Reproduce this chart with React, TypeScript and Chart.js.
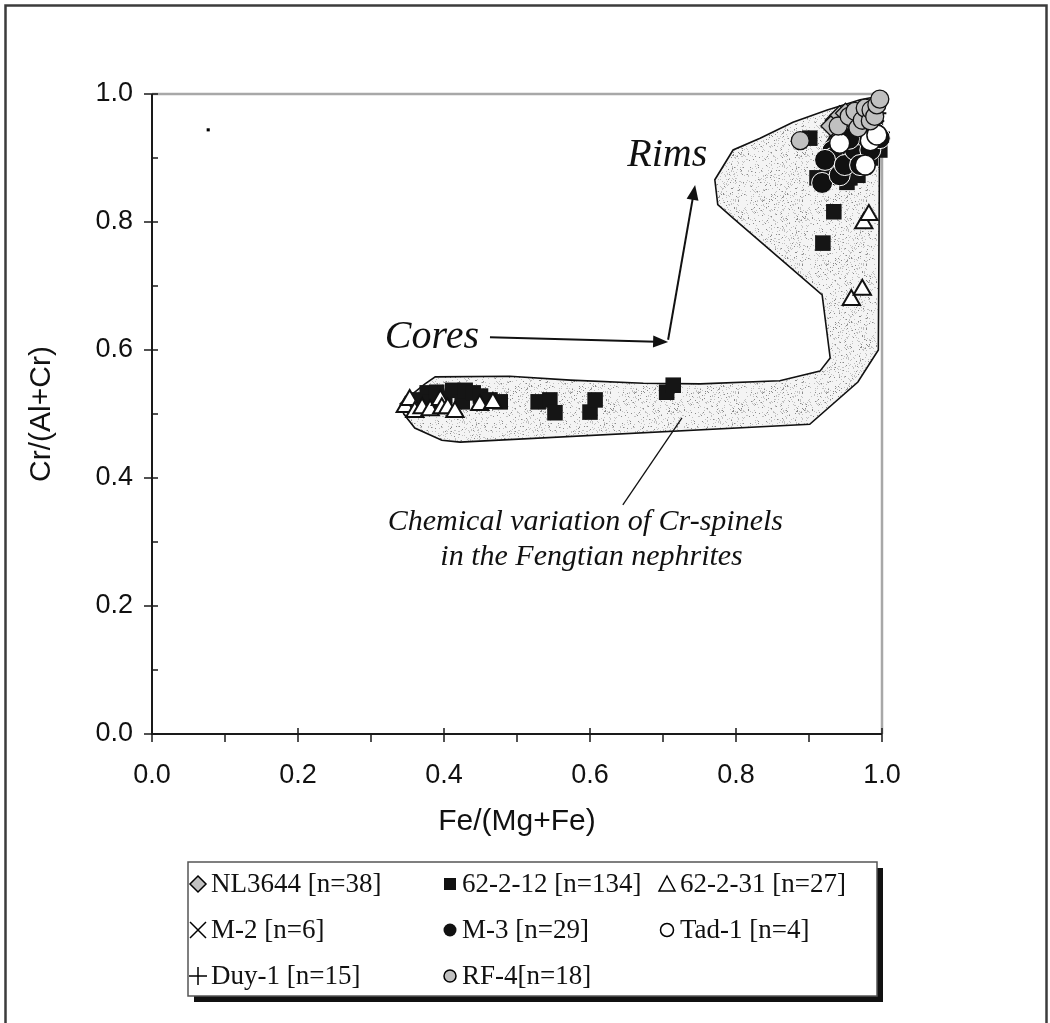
import React, { useEffect, useRef } from "react";
import { Chart, registerables } from "chart.js";
Chart.register(...registerables);

// ---------- data ----------
const xTickValues = [0, 0.2, 0.4, 0.6, 0.8, 1.0];
const yTickValues = [0, 0.2, 0.4, 0.6, 0.8, 1.0];
const xTitle = "Fe/(Mg+Fe)";
const yTitle = "Cr/(Al+Cr)";

const nl3644: [number, number][] = [
  [0.936, 0.959], [0.942, 0.966], [0.945, 0.952], [0.956, 0.962], [0.95, 0.97], [0.962, 0.955], [0.93, 0.95],
];
const s62_2_12: [number, number][] = [
  [0.364, 0.522], [0.377, 0.533], [0.381, 0.519], [0.39, 0.534], [0.401, 0.525], [0.412, 0.537], [0.425, 0.519],
  [0.429, 0.537], [0.44, 0.533], [0.45, 0.528], [0.463, 0.522], [0.477, 0.519],
  [0.529, 0.519], [0.545, 0.522], [0.552, 0.502], [0.6, 0.503], [0.607, 0.522], [0.705, 0.534], [0.714, 0.545],
  [0.919, 0.767], [0.934, 0.816], [0.901, 0.931], [0.911, 0.869], [0.925, 0.884], [0.932, 0.87], [0.936, 0.889],
  [0.949, 0.928], [0.952, 0.88], [0.952, 0.862], [0.956, 0.869], [0.956, 0.905], [0.967, 0.873], [0.977, 0.92],
  [0.984, 0.9], [0.99, 0.944], [0.997, 0.9125], [0.94, 0.91], [0.965, 0.94],
];
const s62_2_31: [number, number][] = [
  [0.347, 0.511], [0.353, 0.522], [0.36, 0.503], [0.37, 0.509], [0.381, 0.506], [0.395, 0.522], [0.397, 0.509],
  [0.405, 0.509], [0.415, 0.503], [0.449, 0.514], [0.467, 0.517],
  [0.958, 0.678], [0.973, 0.694], [0.975, 0.798], [0.982, 0.811], [0.93, 0.92], [0.96, 0.9], [0.99, 0.93],
];
const m2: [number, number][] = [
  [0.975, 0.93], [0.985, 0.945], [0.99, 0.96], [0.97, 0.915], [0.995, 0.95], [0.96, 0.94],
];
const m3: [number, number][] = [
  [0.918, 0.861], [0.932, 0.911], [0.933, 0.9], [0.942, 0.873], [0.922, 0.897], [0.949, 0.889], [0.963, 0.9125],
  [0.973, 0.936], [0.984, 0.9125], [0.997, 0.931], [0.97, 0.889], [0.955, 0.93], [0.99, 0.94],
];
const tad1: [number, number][] = [
  [0.942, 0.923], [0.977, 0.889], [0.984, 0.927], [0.993, 0.936],
];
const duy1: [number, number][] = [
  [0.98, 0.95], [0.995, 0.97], [0.99, 0.925], [0.97, 0.96], [1.0, 0.94], [0.985, 0.905],
];
const rf4: [number, number][] = [
  [0.888, 0.927], [0.94, 0.95], [0.955, 0.965], [0.963, 0.973], [0.967, 0.947], [0.973, 0.959], [0.977, 0.978],
  [0.984, 0.958], [0.985, 0.975], [0.99, 0.965], [0.993, 0.983], [0.997, 0.992],
];
const strayDot: [number, number][] = [[0.077, 0.944]];

// envelope of chemical variation (closed polygon)
const envelope: [number, number][] = [
  [1.0, 1.0], [0.997, 0.997], [0.97, 0.991], [0.925, 0.975], [0.878, 0.956], [0.833, 0.931], [0.796, 0.9125],
  [0.771, 0.866], [0.775, 0.827], [0.796, 0.806], [0.918, 0.686], [0.929, 0.5875], [0.915, 0.567], [0.86, 0.552],
  [0.751, 0.547], [0.673, 0.548], [0.573, 0.553], [0.49, 0.559], [0.388, 0.558], [0.374, 0.547], [0.34, 0.516],
  [0.345, 0.5], [0.36, 0.478], [0.397, 0.459], [0.422, 0.456], [0.901, 0.484], [0.967, 0.55], [0.995, 0.6],
  [0.997, 0.99], [1.0, 1.0],
];

const legendLabels = [
  "NL3644 [n=38]", "62-2-12 [n=134]", "62-2-31 [n=27]",
  "M-2 [n=6]", "M-3 [n=29]", "Tad-1 [n=4]",
  "Duy-1 [n=15]", "RF-4[n=18]",
];
const legendMarkers = ["diamond", "square", "triangle", "x", "dot", "ring", "plus", "grayDot"];

// annotations (data coordinates)
const rimsLabel = { text: "Rims", x: 0.651, y: 0.8875 };
const coresLabel = { text: "Cores", x: 0.319, y: 0.603 };
const coresArrow = [[0.463, 0.62], [0.707, 0.6125]];
const rimsArrow = [[0.707, 0.616], [0.744, 0.858]];
const noteLines = [
  { text: "Chemical variation of Cr-spinels", x: 0.323, y: 0.319 },
  { text: "in the Fengtian nephrites", x: 0.395, y: 0.264 },
];
const notePointer = [[0.645, 0.358], [0.726, 0.494]];

// ---------- helpers ----------
const toXY = (a: [number, number][]) => a.map(([x, y]) => ({ x, y }));

function makeStipple(): any {
  const c = document.createElement("canvas");
  c.width = 64;
  c.height = 64;
  const g = c.getContext("2d")!;
  g.fillStyle = "#f4f4f4";
  g.fillRect(0, 0, 64, 64);
  for (let i = 0; i < 64; i++) {
    for (let j = 0; j < 64; j++) {
      const h = (((i * 2654435761) ^ (j * 40503 + 12345) * 2246822519) >>> 0) % 1000;
      if (h < 120) {
        g.fillStyle = h < 30 ? "#8a8a8a" : "#c2c2c2";
        g.fillRect(i, j, 1, 1);
      }
    }
  }
  return g.createPattern(c, "repeat");
}

function arrow(ctx: CanvasRenderingContext2D, x1: number, y1: number, x2: number, y2: number) {
  const len = 15, half = 6;
  const a = Math.atan2(y2 - y1, x2 - x1);
  const c = Math.cos(a), s = Math.sin(a);
  ctx.beginPath();
  ctx.moveTo(x1, y1);
  ctx.lineTo(x2 - c * len * 0.8, y2 - s * len * 0.8);
  ctx.stroke();
  ctx.beginPath();
  ctx.moveTo(x2, y2);
  ctx.lineTo(x2 - c * len - s * half, y2 - s * len + c * half);
  ctx.lineTo(x2 - c * len + s * half, y2 - s * len - c * half);
  ctx.closePath();
  ctx.fill();
}

function drawLegendMarker(ctx: CanvasRenderingContext2D, kind: string, x: number, y: number) {
  ctx.save();
  ctx.lineWidth = 1.5;
  ctx.strokeStyle = "#000";
  ctx.beginPath();
  if (kind === "diamond") {
    ctx.moveTo(x, y - 8); ctx.lineTo(x + 8, y); ctx.lineTo(x, y + 8); ctx.lineTo(x - 8, y); ctx.closePath();
    ctx.fillStyle = "#c0c0c0"; ctx.fill(); ctx.stroke();
  } else if (kind === "square") {
    ctx.fillStyle = "#111"; ctx.fillRect(x - 6, y - 6, 12, 12);
  } else if (kind === "triangle") {
    ctx.moveTo(x, y - 8); ctx.lineTo(x + 8, y + 7); ctx.lineTo(x - 8, y + 7); ctx.closePath();
    ctx.fillStyle = "#fff"; ctx.fill(); ctx.stroke();
  } else if (kind === "x") {
    ctx.moveTo(x - 8, y - 8); ctx.lineTo(x + 8, y + 8); ctx.moveTo(x + 8, y - 8); ctx.lineTo(x - 8, y + 8); ctx.stroke();
  } else if (kind === "plus") {
    ctx.moveTo(x - 9, y); ctx.lineTo(x + 9, y); ctx.moveTo(x, y - 9); ctx.lineTo(x, y + 9); ctx.stroke();
  } else if (kind === "dot") {
    ctx.arc(x, y, 6.5, 0, Math.PI * 2); ctx.fillStyle = "#111"; ctx.fill();
  } else if (kind === "ring") {
    ctx.arc(x, y, 6.5, 0, Math.PI * 2); ctx.fillStyle = "#fff"; ctx.fill(); ctx.stroke();
  } else if (kind === "grayDot") {
    ctx.arc(x, y, 6, 0, Math.PI * 2); ctx.fillStyle = "#c0c0c0"; ctx.fill(); ctx.stroke();
  }
  ctx.restore();
}

const overlayPlugin = {
  id: "overlay",
  beforeDraw(chart: any) {
    const { ctx, width, height } = chart;
    ctx.save();
    ctx.fillStyle = "#fff";
    ctx.fillRect(0, 0, width, height);
    ctx.restore();
  },
  beforeDatasetsDraw(chart: any) {
    const { ctx, chartArea: a } = chart;
    ctx.save();
    ctx.strokeStyle = "#a8a8a8";
    ctx.lineWidth = 2.5;
    ctx.beginPath();
    ctx.moveTo(a.left, a.top);
    ctx.lineTo(a.right, a.top);
    ctx.lineTo(a.right, a.bottom);
    ctx.stroke();
    ctx.restore();
  },
  afterDraw(chart: any) {
    const { ctx, chartArea: a, scales } = chart;
    const xs = scales.x, ys = scales.y;
    const px = (v: number) => xs.getPixelForValue(v);
    const py = (v: number) => ys.getPixelForValue(v);
    ctx.save();
    // axis lines
    ctx.strokeStyle = "#1a1a1a";
    ctx.lineWidth = 2;
    ctx.beginPath();
    ctx.moveTo(a.left, a.top);
    ctx.lineTo(a.left, a.bottom);
    ctx.lineTo(a.right, a.bottom);
    ctx.stroke();
    // ticks
    ctx.lineWidth = 1.5;
    ctx.beginPath();
    for (let i = 0; i <= 10; i++) {
      const v = i / 10;
      const yy = py(v);
      if (i % 2 === 0) { ctx.moveTo(a.left - 8, yy); ctx.lineTo(a.left + 6, yy); }
      else { ctx.moveTo(a.left, yy); ctx.lineTo(a.left + 6, yy); }
      const xx = px(v);
      if (i % 2 === 0) { ctx.moveTo(xx, a.bottom + 8); ctx.lineTo(xx, a.bottom - 6); }
      else { ctx.moveTo(xx, a.bottom); ctx.lineTo(xx, a.bottom + 8); }
    }
    ctx.stroke();
    // axis titles
    ctx.fillStyle = "#111";
    ctx.font = "30px 'Liberation Sans', Arial, sans-serif";
    ctx.textAlign = "center";
    ctx.textBaseline = "middle";
    ctx.fillText(xTitle, (a.left + a.right) / 2, 822);
    ctx.save();
    ctx.translate(42, (a.top + a.bottom) / 2);
    ctx.rotate(-Math.PI / 2);
    ctx.fillText(yTitle, 0, 0);
    ctx.restore();

    // annotations
    ctx.fillStyle = "#111";
    ctx.strokeStyle = "#111";
    ctx.textAlign = "left";
    ctx.textBaseline = "alphabetic";
    ctx.font = "italic 40px 'Liberation Serif', 'Times New Roman', serif";
    ctx.fillText(rimsLabel.text, px(rimsLabel.x), py(rimsLabel.y));
    ctx.fillText(coresLabel.text, px(coresLabel.x), py(coresLabel.y));
    ctx.lineWidth = 2;
    arrow(ctx, px(coresArrow[0][0]), py(coresArrow[0][1]), px(coresArrow[1][0]), py(coresArrow[1][1]));
    arrow(ctx, px(rimsArrow[0][0]), py(rimsArrow[0][1]), px(rimsArrow[1][0]), py(rimsArrow[1][1]));
    ctx.lineWidth = 1.3;
    ctx.beginPath();
    ctx.moveTo(px(notePointer[0][0]), py(notePointer[0][1]));
    ctx.lineTo(px(notePointer[1][0]), py(notePointer[1][1]));
    ctx.stroke();
    ctx.font = "italic 30px 'Liberation Serif', 'Times New Roman', serif";
    for (const n of noteLines) ctx.fillText(n.text, px(n.x), py(n.y));

    // legend box
    const L = 188, T = 862, R = 877, B = 996;
    ctx.fillStyle = "#111";
    ctx.fillRect(L + 6, T + 6, R - L, B - T);
    ctx.fillStyle = "#fff";
    ctx.fillRect(L, T, R - L, B - T);
    ctx.strokeStyle = "#555";
    ctx.lineWidth = 1.5;
    ctx.strokeRect(L, T, R - L, B - T);
    const colM = [198, 450, 667];
    const colT = [211, 462, 680];
    const rowY = [884, 930, 976];
    ctx.font = "27px 'Liberation Serif', 'Times New Roman', serif";
    ctx.textBaseline = "middle";
    ctx.textAlign = "left";
    legendLabels.forEach((lab, i) => {
      const r = Math.floor(i / 3), c = i % 3;
      drawLegendMarker(ctx, legendMarkers[i], colM[c], rowY[r]);
      ctx.fillStyle = "#111";
      ctx.fillText(lab, colT[c], rowY[r] + 1);
    });

    // outer frame
    ctx.strokeStyle = "#3c3c3c";
    ctx.lineWidth = 2.5;
    ctx.strokeRect(5.5, 5.5, 1041, 1200);
    ctx.restore();
  },
};

export default function App() {
  const ref = useRef<HTMLCanvasElement | null>(null);
  useEffect(() => {
    document.body.style.margin = "0";
    const canvas = ref.current!;
    const stipple = makeStipple();
    const common = { clip: false as any, showLine: false };
    const chart = new Chart(canvas, {
      type: "scatter",
      data: {
        datasets: [
          { ...common, label: "RF-4", data: toXY(rf4), pointStyle: "circle", pointRadius: 9, backgroundColor: "#c0c0c0", borderColor: "#111", borderWidth: 1.3 },
          { ...common, label: "NL3644", data: toXY(nl3644), pointStyle: "rectRot", pointRadius: 10, backgroundColor: "#bdbdbd", borderColor: "#111", borderWidth: 1.3 },
          { ...common, label: "Tad-1", data: toXY(tad1), pointStyle: "circle", pointRadius: 10, backgroundColor: "#fff", borderColor: "#111", borderWidth: 1.5 },
          { ...common, label: "M-3", data: toXY(m3), pointStyle: "circle", pointRadius: 10.5, backgroundColor: "#111", borderColor: "#fff", borderWidth: 1 },
          { ...common, label: "Duy-1", data: toXY(duy1), pointStyle: "cross", pointRadius: 8, backgroundColor: "#111", borderColor: "#111", borderWidth: 2 },
          { ...common, label: "M-2", data: toXY(m2), pointStyle: "crossRot", pointRadius: 8, backgroundColor: "#111", borderColor: "#111", borderWidth: 2 },
          { ...common, label: "62-2-31", data: toXY(s62_2_31), pointStyle: "triangle", pointRadius: 10, backgroundColor: "#fff", borderColor: "#111", borderWidth: 2 },
          { ...common, label: "62-2-12", data: toXY(s62_2_12), pointStyle: "rect", pointRadius: 11, backgroundColor: "#151515", borderColor: "#151515", borderWidth: 0 },
          { ...common, label: "dot", data: toXY(strayDot), pointStyle: "rect", pointRadius: 2.2, backgroundColor: "#000", borderColor: "#000", borderWidth: 0 },
          {
            label: "envelope", data: toXY(envelope), showLine: true, fill: "shape" as any, tension: 0,
            pointRadius: 0, borderColor: "#111", borderWidth: 1.6, backgroundColor: stipple, clip: false as any,
          },
        ] as any,
      },
      options: {
        responsive: false,
        animation: false,
        events: [],
        layout: { padding: { left: 0, top: 94, right: 168, bottom: 0 } },
        plugins: { legend: { display: false }, tooltip: { enabled: false } },
        scales: {
          x: {
            type: "linear", min: 0, max: 1,
            afterFit: (s: any) => { s.height = 289; },
            grid: { display: false }, border: { display: false },
            afterBuildTicks: (s: any) => { s.ticks = xTickValues.map((v) => ({ value: v })); },
            ticks: { callback: (v: any) => Number(v).toFixed(1), font: { family: "'Liberation Sans', Arial", size: 27 }, color: "#111", padding: 17, maxRotation: 0 },
          },
          y: {
            type: "linear", min: 0, max: 1,
            afterFit: (s: any) => { s.width = 152; },
            grid: { display: false }, border: { display: false },
            afterBuildTicks: (s: any) => { s.ticks = yTickValues.map((v) => ({ value: v })); },
            ticks: { callback: (v: any) => Number(v).toFixed(1), font: { family: "'Liberation Sans', Arial", size: 27 }, color: "#111", padding: 11 },
          },
        },
      },
      plugins: [overlayPlugin],
    });
    return () => chart.destroy();
  }, []);
  return <canvas ref={ref} width={1050} height={1023} style={{ display: "block" }} />;
}
